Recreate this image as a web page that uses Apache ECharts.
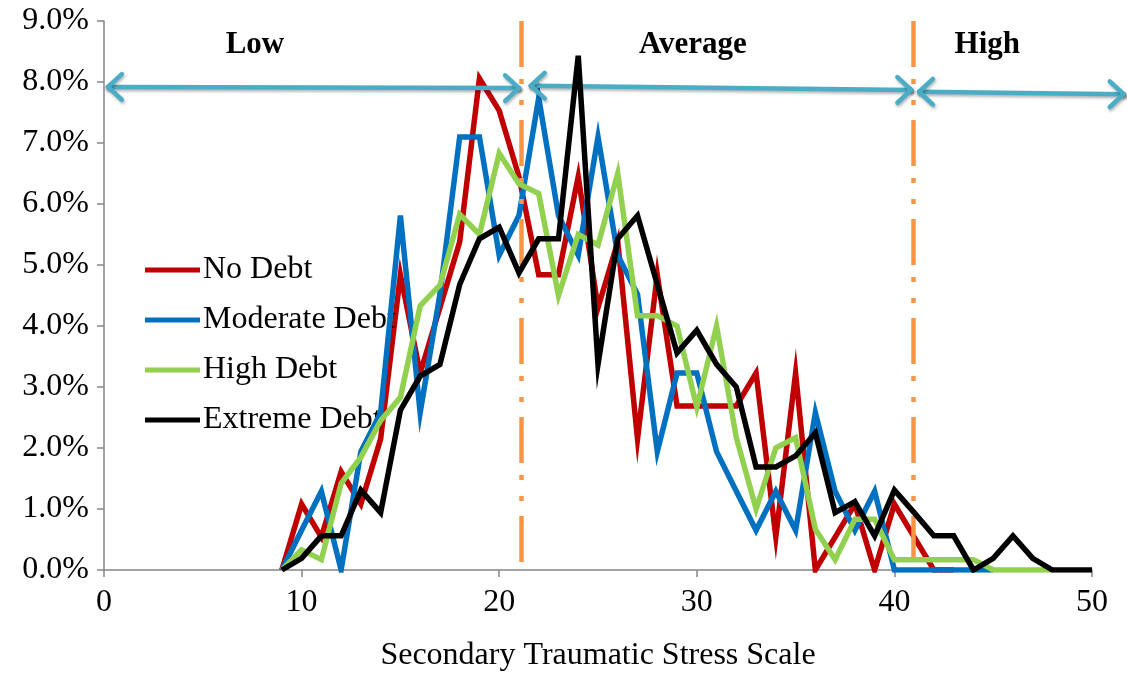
<!DOCTYPE html>
<html>
<head>
<meta charset="utf-8">
<script src="https://cdn.jsdelivr.net/npm/echarts@6/dist/echarts.min.js"></script>
<style>html,body{margin:0;padding:0;background:#fff}#c{width:1127px;height:673px}</style>
</head>
<body>
<div id="c"></div>
<script>
// Secondary Traumatic Stress Scale scores (x) and percentage of each group (y, %)
const scores = [9,10,11,12,13,14,15,16,17,18,19,20,21,22,23,24,25,26,27,28,29,30,31,32,33,34,35,36,37,38,39,40,41,42,43,44,45,46,47,48,49,50];
const noDebt = [0,1.08,0.54,1.61,1.08,2.15,4.84,3.23,4.30,5.38,8.06,7.53,6.45,4.84,4.84,6.45,4.30,5.38,2.15,4.84,2.69,2.69,2.69,2.69,3.23,0.54,3.23,0,0.54,1.08,0,1.08,0.54,0,0,null,null,null,null,null,null,null];
const moderateDebt = [0,0.65,1.29,0,1.94,2.58,5.81,2.58,4.52,7.10,7.10,5.16,5.81,7.74,5.81,5.16,7.10,5.16,4.52,1.94,3.23,3.23,1.94,1.29,0.65,1.29,0.65,2.58,1.29,0.65,1.29,0,0,0,0,0,0,null,null,null,null,null];
const highDebt = [0,0.33,0.17,1.42,1.85,2.45,2.83,4.33,4.67,5.83,5.50,6.83,6.33,6.17,4.50,5.50,5.33,6.50,4.17,4.17,4.00,2.67,4.00,2.17,1.00,2.00,2.17,0.67,0.17,0.83,0.83,0.17,0.17,0.17,0.17,0.17,0,0,0,0,null,null];
const extremeDebt = [0,0.19,0.56,0.56,1.31,0.94,2.62,3.18,3.37,4.68,5.43,5.62,4.87,5.43,5.43,8.43,3.37,5.43,5.81,4.68,3.56,3.93,3.37,3.00,1.69,1.69,1.87,2.25,0.94,1.12,0.56,1.31,0.94,0.56,0.56,0,0.19,0.56,0.19,0,0,0];

const seriesNames = ['No Debt','Moderate Debt','High Debt','Extreme Debt'];
const seriesColors = ['#C00000','#0070C0','#92D050','#000000'];

// range annotations
const rangeLabels = ['Low','Average','High'];
const rangeLabelX = [7.64, 29.8, 44.7];
const rangeLabelY = 8.6;
const cutoffs = [21.12, 40.95];
const arrowSegments = [ // [x1,y1,x2,y2] (arrow tips)
  [0.2, 7.92, 21.0, 7.9],
  [21.6, 7.94, 40.85, 7.87],
  [41.25, 7.84, 51.6, 7.8]
];
const headBack = 0.7;    // arrowhead arm length along x (score units)
const headSpread = 0.21; // arrowhead arm spread along y (% units)

const FONT = "'Liberation Serif','Times New Roman',serif";
const axisColor = '#868686';

const allSeries = [noDebt, moderateDebt, highDebt, extremeDebt];
const series = allSeries.map((vals, i) => ({
  name: seriesNames[i],
  type: 'line',
  xAxisIndex: 0, yAxisIndex: 0,
  data: scores.map((s, j) => [s, vals[j]]),
  symbol: 'none',
  connectNulls: false,
  lineStyle: { width: 5.5, color: seriesColors[i], join: 'miter' },
  itemStyle: { color: seriesColors[i] },
  z: 3 + i
}));

// orange cutoff lines + labels on main grid
series.push({
  type: 'line', xAxisIndex: 0, yAxisIndex: 0, data: [], silent: true,
  markLine: {
    silent: true, symbol: 'none', animation: false,
    label: { show: false },
    lineStyle: { color: '#F79646', width: 4.5, type: [46, 12, 5, 16, 5, 15], opacity: 1 },
    data: cutoffs.map(c => [{ coord: [c, 9] }, { coord: [c, 0] }])
  },
  markPoint: {
    silent: true, animation: false,
    symbol: 'circle', symbolSize: 1,
    itemStyle: { color: 'rgba(0,0,0,0)' },
    label: { show: true, position: 'inside', formatter: '{b}', color: '#000', fontFamily: FONT, fontWeight: 'bold', fontSize: 31 },
    data: rangeLabels.map((t, i) => ({ name: t, coord: [rangeLabelX[i], rangeLabelY] }))
  },
  z: 2
});

// arrows (shafts + chevron heads) on an overlay grid extending to the right edge (same scale)
const arrowLines = [];
arrowSegments.forEach(a => {
  arrowLines.push([{ coord: [a[0], a[1]] }, { coord: [a[2], a[3]] }]);
  arrowLines.push([{ coord: [a[0], a[1]] }, { coord: [a[0] + headBack, a[1] + headSpread] }]);
  arrowLines.push([{ coord: [a[0], a[1]] }, { coord: [a[0] + headBack, a[1] - headSpread] }]);
  arrowLines.push([{ coord: [a[2], a[3]] }, { coord: [a[2] - headBack, a[3] + headSpread] }]);
  arrowLines.push([{ coord: [a[2], a[3]] }, { coord: [a[2] - headBack, a[3] - headSpread] }]);
});
series.push({
  type: 'line', xAxisIndex: 1, yAxisIndex: 1, data: [], silent: true,
  markLine: {
    silent: true, animation: false,
    symbol: 'none',
    label: { show: false },
    lineStyle: { color: '#4BACC6', width: 4.5, type: 'solid', opacity: 1, cap: 'round',
      shadowColor: 'rgba(0,0,0,0.3)', shadowBlur: 3, shadowOffsetY: 2, shadowOffsetX: 1 },
    data: arrowLines
  },
  z: 10
});

const chart = echarts.init(document.getElementById('c'), null, { renderer: 'canvas' });
const gridLeft = 104, gridRight = 35;
const plotW = 1127 - gridLeft - gridRight;
const overlayMax = 50 * (1127 - gridLeft) / plotW;

chart.setOption({
  animation: false,
  backgroundColor: '#ffffff',
  textStyle: { fontFamily: FONT },
  grid: [
    { left: gridLeft, right: gridRight, top: 21, bottom: 103, containLabel: false, outerBoundsMode: 'none' },
    { left: gridLeft, right: 0, top: 21, bottom: 103, containLabel: false, outerBoundsMode: 'none' }
  ],
  legend: {
    orient: 'vertical', left: 145, top: 254, padding: 0,
    icon: 'rect',
    itemWidth: 55, itemHeight: 5, itemGap: 18,
    data: seriesNames,
    textStyle: { fontFamily: FONT, fontSize: 32, color: '#000', padding: [0, 0, 0, -2] },
    selectedMode: false
  },
  xAxis: [
    {
      type: 'value', min: 0, max: 50, interval: 10, gridIndex: 0,
      name: 'Secondary Traumatic Stress Scale', nameLocation: 'middle', nameGap: 70,
      nameTextStyle: { fontFamily: FONT, fontSize: 32, color: '#000' },
      axisLine: { show: true, lineStyle: { color: axisColor, width: 1.5 } },
      axisTick: { show: true, inside: false, length: 7, lineStyle: { color: axisColor, width: 1.5 } },
      axisLabel: { fontFamily: FONT, fontSize: 32, color: '#000', margin: 17 },
      splitLine: { show: false }
    },
    { type: 'value', min: 0, max: overlayMax, gridIndex: 1, show: false }
  ],
  yAxis: [
    {
      type: 'value', min: 0, max: 9, interval: 1, gridIndex: 0,
      axisLine: { show: true, lineStyle: { color: axisColor, width: 1.5 } },
      axisTick: { show: true, inside: false, length: 7, lineStyle: { color: axisColor, width: 1.5 } },
      axisLabel: { fontFamily: FONT, fontSize: 32, color: '#000', margin: 15, formatter: v => v.toFixed(1) + '%' },
      splitLine: { show: false }
    },
    { type: 'value', min: 0, max: 9, gridIndex: 1, show: false }
  ],
  series: series
});
</script>
</body>
</html>
